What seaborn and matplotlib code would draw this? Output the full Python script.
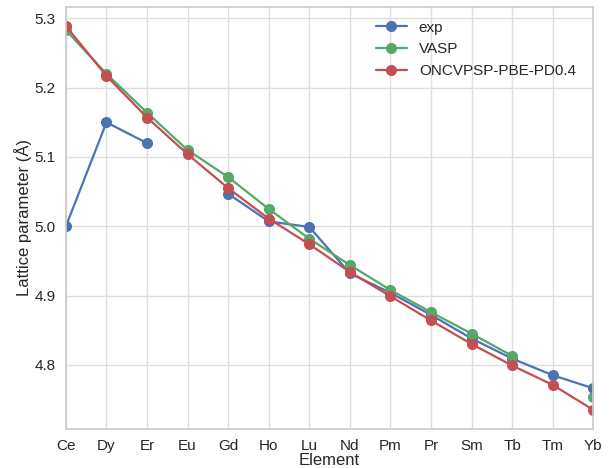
import numpy as np
import pandas as pd
import seaborn as sns
import matplotlib
matplotlib.use("Agg")
import matplotlib.pyplot as plt

elements = ["Ce", "Dy", "Er", "Eu", "Gd", "Ho", "Lu", "Nd", "Pm", "Pr", "Sm", "Tb", "Tm", "Yb"]
exp = [5.000, 5.150, 5.120, np.nan, 5.047, 5.007, 4.999, 4.932, 4.904, 4.872, 4.838, 4.809, 4.785, 4.766]
vasp = [5.283, 5.220, 5.164, 5.110, 5.071, 5.025, 4.982, 4.944, 4.908, 4.876, 4.845, 4.813, np.nan, 4.753]
oncv = [5.289, 5.217, 5.157, 5.104, 5.055, 5.011, 4.974, 4.934, 4.899, 4.864, 4.830, 4.799, 4.771, 4.735]
methods = ["exp", "VASP", "ONCVPSP-PBE-PD0.4"]
colors = ["#4C72B0", "#55A868", "#C44E52"]

# long table keyed by element index; a missing value splits a series
rows = []
for name, vals in zip(methods, [exp, vasp, oncv]):
    seg = 0
    for i, v in enumerate(vals):
        if np.isnan(v):
            seg += 1
            continue
        rows.append({"pos": i, "value": v, "method": name, "seg": f"{name}-{seg}"})
df = pd.DataFrame(rows)

sns.set_theme(context="notebook", style="whitegrid", rc={
    "axes.edgecolor": "#cccccc",
    "grid.color": "#dddddd",
})
plt.rcParams["font.family"] = ["Liberation Sans", "DejaVu Sans"]

fig = plt.figure(figsize=(6.16, 4.68), dpi=100)
ax = fig.add_axes([0.107, 0.0833, 0.856, 0.902])

sns.lineplot(data=df, x="pos", y="value", hue="method", units="seg",
             estimator=None, sort=False, hue_order=methods, palette=colors,
             marker="o", markersize=8, markeredgewidth=0, linewidth=1.6, ax=ax)

ax.set_xticks(range(len(elements)))
ax.set_xticklabels(elements)
ax.set_xlim(0, len(elements) - 1)
ax.set_xlabel("Element", fontsize=12, labelpad=0)
ax.set_ylabel("Lattice parameter (Å)", fontsize=12, labelpad=2)
ax.tick_params(axis="both", labelsize=11, pad=1.5)
ax.legend(loc="upper right", frameon=False, fontsize=11, bbox_to_anchor=(0.993, 1.0))

fig.savefig("out.png", dpi=100)
